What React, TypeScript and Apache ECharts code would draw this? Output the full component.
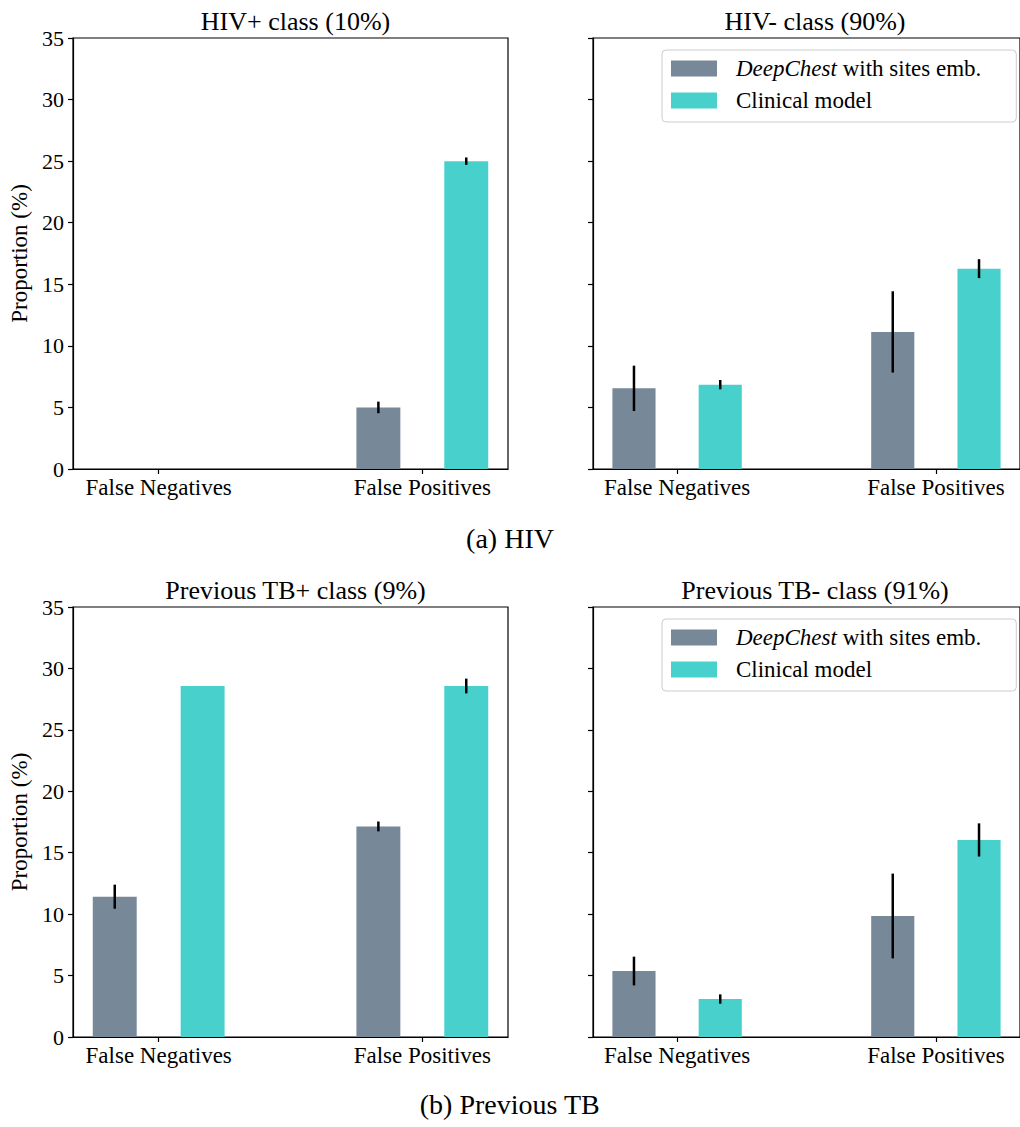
import React, { useEffect, useRef } from "react";
import * as echarts from "echarts";

const categories = ["False Negatives", "False Positives"];
const DEEP = "DeepChest with sites emb.";
const CLIN = "Clinical model";

const hivPosDeep = [0, 5.0];
const hivPosDeepErr = [0, 0.47];
const hivPosClin = [0, 25.0];
const hivPosClinErr = [0, 0.3];

const hivNegDeep = [6.55, 11.13];
const hivNegDeepErr = [1.84, 3.3];
const hivNegClin = [6.85, 16.27];
const hivNegClinErr = [0.38, 0.77];

const tbPosDeep = [11.42, 17.14];
const tbPosDeepErr = [0.98, 0.4];
const tbPosClin = [28.57, 28.57];
const tbPosClinErr = [0, 0.6];

const tbNegDeep = [5.37, 9.85];
const tbNegDeepErr = [1.17, 3.45];
const tbNegClin = [3.09, 16.04];
const tbNegClinErr = [0.38, 1.35];

const titles = ["HIV+ class (10%)", "HIV- class (90%)", "Previous TB+ class (9%)", "Previous TB- class (91%)"];
const captions = ["(a) HIV", "(b) Previous TB"];
const yTicks = [0, 35, 5];

const GRAY = "#778899";
const TEAL = "#48D1CC";
const FONT = "'Liberation Serif', 'DejaVu Serif', serif";
const BAR_W = 1 / 6;
const OFF = 1 / 6;

const panels = [
  { deep: hivPosDeep, deepErr: hivPosDeepErr, clin: hivPosClin, clinErr: hivPosClinErr },
  { deep: hivNegDeep, deepErr: hivNegDeepErr, clin: hivNegClin, clinErr: hivNegClinErr },
  { deep: tbPosDeep, deepErr: tbPosDeepErr, clin: tbPosClin, clinErr: tbPosClinErr },
  { deep: tbNegDeep, deepErr: tbNegDeepErr, clin: tbNegClin, clinErr: tbNegClinErr },
];

const grids = [
  { left: 73, top: 38, width: 435, height: 431 },
  { left: 593, top: 38, width: 434, height: 431 },
  { left: 73, top: 607, width: 435, height: 430 },
  { left: 593, top: 607, width: 434, height: 430 },
];

export default function App() {
  const ref = useRef<HTMLDivElement>(null);
  useEffect(() => {
    document.body.style.margin = "0";
    const chart = echarts.init(ref.current!, undefined, { renderer: "svg" });

    const barRender = (color: string) => (params: any, api: any) => {
      const x = api.value(0);
      const y = api.value(1);
      const p0 = api.coord([x - BAR_W / 2, y]);
      const p1 = api.coord([x + BAR_W / 2, 0]);
      return {
        type: "rect",
        shape: { x: p0[0], y: p0[1], width: p1[0] - p0[0], height: p1[1] - p0[1] },
        style: { fill: color },
      };
    };
    const errRender = (params: any, api: any) => {
      const x = api.value(0);
      const y = api.value(1);
      const e = api.value(2);
      if (!(e > 0)) return null;
      const a = api.coord([x, y + e]);
      const b = api.coord([x, y - e]);
      return {
        type: "line",
        shape: { x1: a[0], y1: a[1], x2: b[0], y2: b[1] },
        style: { stroke: "#000", lineWidth: 2.5 },
      };
    };

    const series: any[] = [];
    panels.forEach((p, gi) => {
      const sets = [
        { name: DEEP, color: GRAY, vals: p.deep, errs: p.deepErr, off: -OFF },
        { name: CLIN, color: TEAL, vals: p.clin, errs: p.clinErr, off: OFF },
      ];
      sets.forEach((s) => {
        const data = s.vals.map((v, i) => [i + s.off, v, s.errs[i]]);
        series.push({
          type: "custom",
          name: s.name,
          xAxisIndex: gi,
          yAxisIndex: gi,
          itemStyle: { color: s.color },
          encode: { x: 0, y: 1 },
          renderItem: barRender(s.color),
          data,
          z: 2,
        });
      });
      sets.forEach((s) => {
        const data = s.vals.map((v, i) => [i + s.off, v, s.errs[i]]);
        series.push({
          type: "custom",
          xAxisIndex: gi,
          yAxisIndex: gi,
          encode: { x: 0, y: 1 },
          renderItem: errRender,
          data,
          z: 3,
        });
      });
    });

    const legendBase = (top: number) => ({
      orient: "vertical",
      left: 662,
      top,
      data: [DEEP, CLIN],
      icon: "rect",
      itemWidth: 46,
      itemHeight: 16,
      itemGap: 9,
      padding: [7, 11, 10, 9],
      borderColor: "#cccccc",
      borderWidth: 1,
      borderRadius: 4,
      backgroundColor: "rgba(255,255,255,0.8)",
      selectedMode: false,
      formatter: (n: string) => (n === DEEP ? "{i|DeepChest} with sites emb." : n),
      textStyle: {
        fontFamily: FONT,
        fontSize: 23,
        color: "#000",
        lineHeight: 20,
        padding: [0, 24, 0, 14],
        rich: { i: { fontStyle: "italic", fontFamily: FONT, fontSize: 23, color: "#000", lineHeight: 20 } },
      },
    });

    const option: any = {
      animation: false,
      backgroundColor: "#fff",
      textStyle: { fontFamily: FONT },
      title: titles.map((t, i) => ({
        text: t,
        left: grids[i].left + (i % 2 === 0 ? 435 : 434) / 2,
        top: grids[i].top - 35,
        textAlign: "center",
        textStyle: { fontFamily: FONT, fontSize: 26, fontWeight: "normal", color: "#000" },
      })),
      legend: [legendBase(50), legendBase(619)],
      grid: grids.map((g) => ({ ...g, show: true, borderColor: "#000", borderWidth: 1.2, backgroundColor: "transparent" })),
      xAxis: grids.map((g, i) => ({
        type: "value",
        gridIndex: i,
        min: -0.325,
        max: 1.325,
        splitLine: { show: false },
        axisLine: { show: true, onZero: false, lineStyle: { color: "#000", width: 1.2 } },
        axisTick: { show: true, customValues: [0, 1], length: 5, lineStyle: { color: "#000", width: 1.2 } },
        axisLabel: {
          customValues: [0, 1],
          formatter: (v: number) => categories[Math.round(v)] ?? "",
          fontFamily: FONT,
          fontSize: 23,
          color: "#000",
          margin: 7,
        },
      })),
      yAxis: grids.map((g, i) => ({
        type: "value",
        gridIndex: i,
        min: yTicks[0],
        max: yTicks[1],
        interval: yTicks[2],
        name: i % 2 === 0 ? "Proportion (%)" : "",
        nameLocation: "middle",
        nameRotate: 90,
        nameGap: 42,
        nameTextStyle: { fontFamily: FONT, fontSize: 23, color: "#000" },
        splitLine: { show: false },
        axisLine: { show: true, onZero: false, lineStyle: { color: "#000", width: 1.2 } },
        axisTick: { show: true, length: 5, lineStyle: { color: "#000", width: 1.2 } },
        axisLabel: {
          show: i % 2 === 0,
          fontFamily: FONT,
          fontSize: 22,
          color: "#000",
          margin: 9,
        },
      })),
      graphic: [
        {
          type: "text",
          left: "center",
          top: 524,
          style: { text: captions[0], fontFamily: FONT, fontSize: 28, fill: "#000" },
        },
        {
          type: "text",
          left: "center",
          top: 1090,
          style: { text: captions[1], fontFamily: FONT, fontSize: 28, fill: "#000" },
        },
      ],
      series,
    };
    chart.setOption(option);
    return () => chart.dispose();
  }, []);
  return <div ref={ref} style={{ width: 1020, height: 1127 }} />;
}
